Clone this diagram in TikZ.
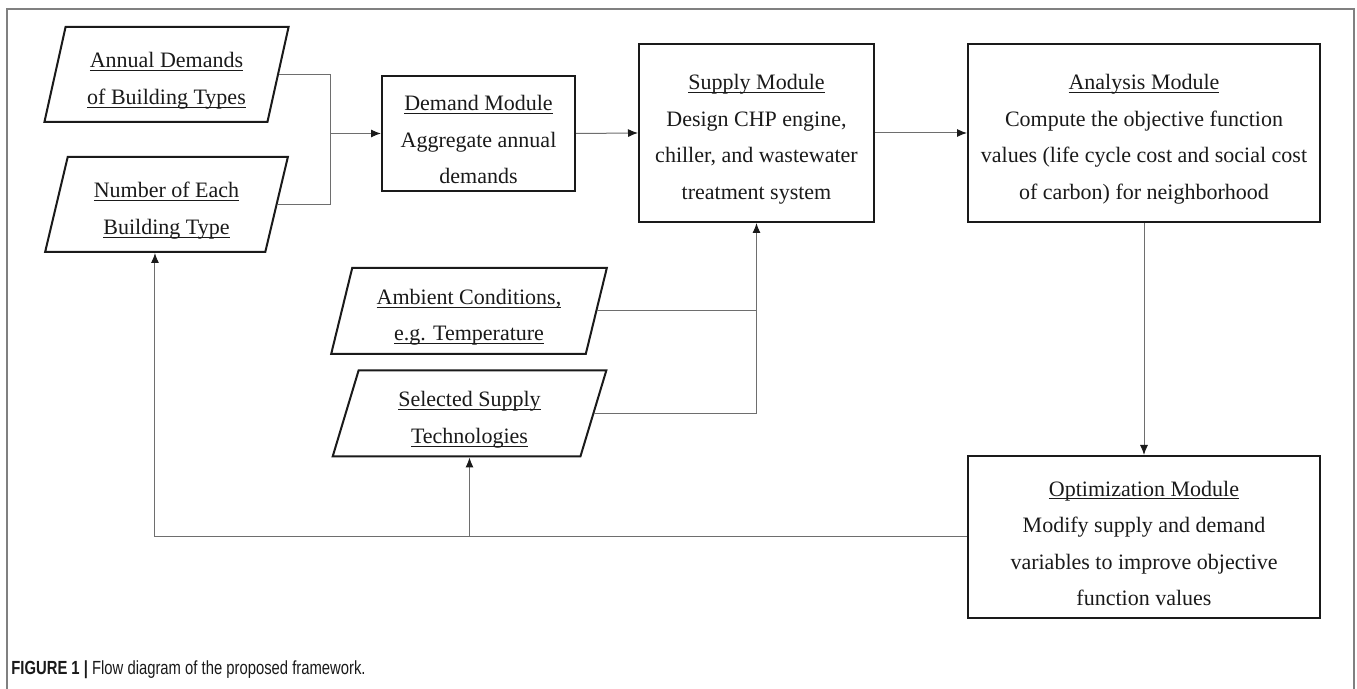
\documentclass[tikz,border=0pt]{standalone}
\usepackage{fontspec}
\setmainfont{Liberation Serif}
\newfontfamily\fwcapfont[FakeStretch=0.78]{Liberation Sans}
\usetikzlibrary{arrows.meta,shapes.geometric}
\definecolor{fwink}{HTML}{1A1A1A}
\definecolor{fwwire}{HTML}{6E6E6E}
\definecolor{fwframe}{HTML}{808080}
\newcommand{\fwul}[1]{\rule{0pt}{14pt}\setbox0=\hbox{#1}\rlap{\rule[-1.6pt]{\wd0}{0.5pt}}\box0}
\tikzset{
  fw text/.style={font=\fontsize{11}{18.25}\selectfont, text=fwink},
  fw box/.style={draw=fwink, line width=1pt, align=center, inner sep=0pt, fw text},
  fw input/.style={draw=fwink, line width=1pt, trapezium, trapezium left angle=76.5,
    trapezium right angle=103.5, trapezium stretches=true, align=center,
    inner sep=0pt, fw text},
  fw wire/.style={draw=fwwire, line width=0.5pt},
  fw arrow/.style={fw wire, -{Latex[length=5pt,width=4pt,color=fwink]}},
  fw frame/.style={draw=fwframe, line width=0.8pt},
  fw caption/.style={font=\fwcapfont\fontsize{9.5}{11}\selectfont, text=fwink,
    inner sep=0pt}
}

\begin{document}
\begin{tikzpicture}[x=0.5pt, y=-0.5pt]
  \path[fill=white, use as bounding box] (0,0) rectangle (1357,689);
  \draw[fw frame] (7,689) -- (7,9) -- (1354,9) -- (1354,689);

  \node[fw input, minimum width=122.5pt, minimum height=47.5pt] (annual) at (166.5,74.5)
    {\fwul{Annual Demands}\\\fwul{of Building Types}};
  \node[fw input, minimum width=122.5pt, minimum height=47.5pt] (number) at (166.5,204.5)
    {\fwul{Number of Each}\\\fwul{Building Type}};
  \node[fw box, minimum width=96.5pt, minimum height=57.5pt] (demand) at (478.5,133.5)
    {\fwul{Demand Module}\\Aggregate annual\\demands};
  \node[fw box, minimum width=117.5pt, minimum height=89pt] (supply) at (756.5,133)
    {\fwul{Supply Module}\\Design CHP engine,\\chiller, and wastewater\\treatment system};
  \node[fw box, minimum width=176pt, minimum height=89pt] (analysis) at (1144,133)
    {\fwul{Analysis Module}\\Compute the objective function\\values (life cycle cost and social cost\\of carbon) for neighborhood};
  \node[fw input, minimum width=138pt, minimum height=43pt] (ambient) at (469,311)
    {\fwul{Ambient Conditions,}\\\fwul{e.g. Temperature}};
  \node[fw input, minimum width=138pt, minimum height=43pt] (selected) at (469.5,413.5)
    {\fwul{Selected Supply}\\\fwul{Technologies}};
  \node[fw box, minimum width=176pt, minimum height=81pt] (optim) at (1144,537)
    {\fwul{Optimization Module}\\Modify supply and demand\\variables to improve objective\\function values};

  \coordinate (join) at (330,133.5);
  \draw[fw wire] (annual.east) -| (join);
  \draw[fw wire] (number.east) -| (join);
  \draw[fw arrow] (join) -- (demand.west);
  \draw[fw arrow] (demand.east) -- (supply.west);
  \draw[fw arrow] (supply.east) -- (analysis.west);
  \draw[fw arrow] (analysis.south) -- (optim.north);
  \draw[fw wire] (ambient.east) -- (ambient.east -| supply.south);
  \draw[fw arrow] (selected.east) -| (supply.south);
  \draw[fw arrow] (optim.west) -| (number.bottom side);
  \draw[fw arrow] (optim.west -| selected.south) -- (selected.south);

  \node[fw caption, anchor=base west] (caption) at (11,675)
    {\textbf{FIGURE 1 |} Flow diagram of the proposed framework.};
\end{tikzpicture}
\end{document}
